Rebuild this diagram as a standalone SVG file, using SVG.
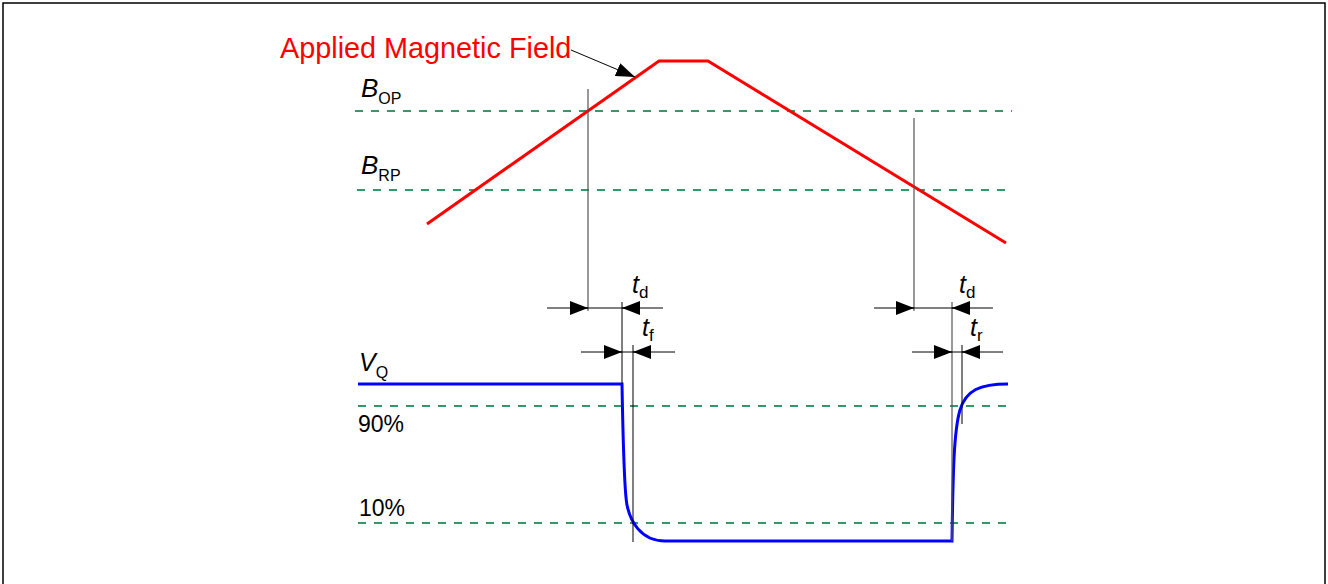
<svg xmlns="http://www.w3.org/2000/svg" width="1328" height="584" viewBox="0 0 1328 584">
<style>
.dash{stroke:#339966;stroke-width:2;stroke-dasharray:8 8;fill:none}
.v{stroke:#000;stroke-width:1;fill:none}
.vg{stroke:#555;stroke-width:1.2;fill:none}
.h{stroke:#000;stroke-width:1;fill:none}
.lbl{font-family:"Liberation Sans",Arial,sans-serif;fill:#000}
.it{font-style:italic}
</style>
<defs>
<marker id="ah" viewBox="0 0 18 14" refX="18" refY="7" markerWidth="18" markerHeight="14" markerUnits="userSpaceOnUse" orient="auto">
<path d="M0,0 L18,7 L0,14 Z" fill="#000"/>
</marker>
<marker id="ah2" viewBox="0 0 19 14" refX="19" refY="7" markerWidth="19" markerHeight="14" markerUnits="userSpaceOnUse" orient="auto">
<path d="M0,0 L19,7 L0,14 Z" fill="#000"/>
</marker>
</defs>
<rect x="0" y="0" width="1328" height="584" fill="#fff"/>
<path d="M3,600 V3 H1325 V600" fill="none" stroke="#000" stroke-width="1.5"/>

<g id="thresholds">
<line class="dash" x1="355" y1="111" x2="1012" y2="111"/>
<line class="dash" x1="357" y1="190" x2="1012" y2="190"/>
<line class="dash" x1="358" y1="406" x2="1012" y2="406"/>
<line class="dash" x1="358" y1="523" x2="1012" y2="523"/>
</g>

<g id="labels">
<text class="lbl" x="280" y="58" font-size="28.8" style="fill:#ff0000">Applied Magnetic Field</text>
<text class="lbl" x="361" y="97" font-size="26"><tspan class="it">B</tspan><tspan font-size="16" dy="7">OP</tspan></text>
<text class="lbl" x="361" y="174" font-size="26"><tspan class="it">B</tspan><tspan font-size="16" dy="7">RP</tspan></text>
<text class="lbl" x="359" y="371" font-size="25"><tspan class="it">V</tspan><tspan font-size="16" dy="7">Q</tspan></text>
<text class="lbl" x="358" y="432" font-size="23">90%</text>
<text class="lbl" x="359" y="516" font-size="23">10%</text>
<text class="lbl" x="632" y="293" font-size="25"><tspan class="it">t</tspan><tspan font-size="17" dy="5">d</tspan></text>
<text class="lbl" x="642" y="336" font-size="25"><tspan class="it">t</tspan><tspan font-size="17" dy="5">f</tspan></text>
<text class="lbl" x="959" y="293" font-size="25"><tspan class="it">t</tspan><tspan font-size="17" dy="5">d</tspan></text>
<text class="lbl" x="970" y="336" font-size="25"><tspan class="it">t</tspan><tspan font-size="17" dy="5">r</tspan></text>
</g>

<g id="field">
<polyline points="427,224 659,61 708,61 1006,243" fill="none" stroke="#ff0000" stroke-width="3" stroke-linejoin="miter"/>
</g>

<g id="output">
<path d="M358,384 H622 C623,440 624,490 627,505 C630,520 640,541 665,541 H952 C953,470 954,430 960,410 C966,390 980,384 1008,384" fill="none" stroke="#0000ff" stroke-width="3"/>
</g>

<g id="connectors">
<line class="h" x1="571" y1="50" x2="635" y2="77" marker-end="url(#ah2)"/>
<line class="vg" x1="588" y1="89" x2="588" y2="311"/>
<line class="v" x1="622" y1="302" x2="622" y2="384"/>
<line class="v" x1="633" y1="345" x2="633" y2="542"/>
<line class="vg" x1="914" y1="118" x2="914" y2="311"/>
<line class="vg" x1="952" y1="302" x2="952" y2="541"/>
<line class="v" x1="962" y1="345" x2="962" y2="424"/>

<line class="h" x1="547" y1="308" x2="663" y2="308"/>
<line class="h" x1="570" y1="308" x2="588" y2="308" marker-end="url(#ah)"/>
<line class="h" x1="640" y1="308" x2="622" y2="308" marker-end="url(#ah)"/>
<line class="h" x1="581" y1="352" x2="675" y2="352"/>
<line class="h" x1="604" y1="352" x2="622" y2="352" marker-end="url(#ah)"/>
<line class="h" x1="651" y1="352" x2="633" y2="352" marker-end="url(#ah)"/>

<line class="h" x1="874" y1="308" x2="993" y2="308"/>
<line class="h" x1="896" y1="308" x2="914" y2="308" marker-end="url(#ah)"/>
<line class="h" x1="970" y1="308" x2="952" y2="308" marker-end="url(#ah)"/>
<line class="h" x1="912" y1="352" x2="1003" y2="352"/>
<line class="h" x1="934" y1="352" x2="952" y2="352" marker-end="url(#ah)"/>
<line class="h" x1="980" y1="352" x2="962" y2="352" marker-end="url(#ah)"/>
</g>
</svg>
